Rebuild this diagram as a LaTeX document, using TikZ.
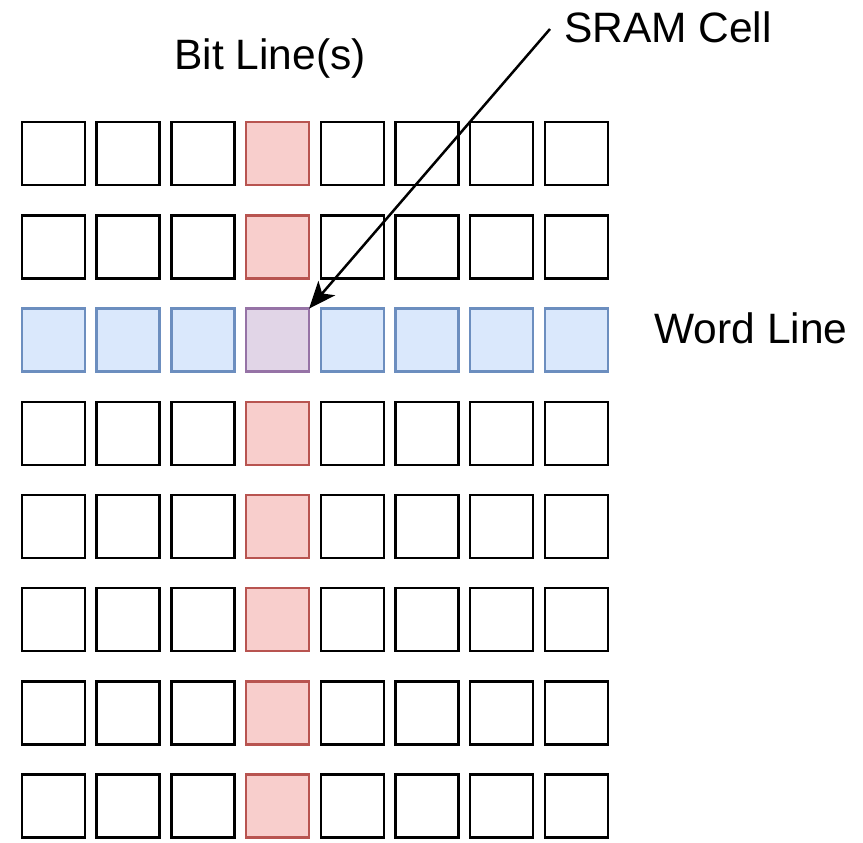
\documentclass[tikz,border=0pt]{standalone}
\usepackage{fontspec}
\setmainfont{Liberation Sans}
\usetikzlibrary{arrows.meta}

\definecolor{plainstroke}{HTML}{000000}
\definecolor{bitfill}{HTML}{F8CECC}
\definecolor{bitstroke}{HTML}{B85450}
\definecolor{wordfill}{HTML}{DAE8FC}
\definecolor{wordstroke}{HTML}{6C8EBF}
\definecolor{cellfill}{HTML}{E1D5E7}
\definecolor{cellstroke}{HTML}{9673A6}

\tikzset{
  memcell/.style={draw=plainstroke, fill=white, line width=2.5pt,
    minimum width=63pt, minimum height=63pt, inner sep=0pt, outer sep=0pt},
  bitcell/.style={memcell, draw=bitstroke, fill=bitfill},
  wordcell/.style={memcell, draw=wordstroke, fill=wordfill},
  selcell/.style={memcell, draw=cellstroke, fill=cellfill},
  caption/.style={font=\fontsize{42.5}{50}\selectfont, inner sep=0pt, anchor=base},
  pointer/.style={line width=2.5pt, -{Stealth[length=27pt, width=22pt, inset=7pt]}}
}

\begin{document}
\begin{tikzpicture}[x=1pt, y=-1pt]
  \useasboundingbox (0,0) rectangle (863,843);

  % 8 x 8 array of memory cells; column 4 is the bit line, row 3 the word line
  \foreach \r in {1,...,8} {
    \foreach \c in {1,...,8} {
      \pgfmathsetmacro{\cx}{53.5 + 74.7*(\c-1)}
      \pgfmathsetmacro{\cy}{153.7 + 93.2*(\r-1)}
      \ifnum\r=3
        \ifnum\c=4
          \node[selcell] (cell-\r-\c) at (\cx,\cy) {};
        \else
          \node[wordcell] (cell-\r-\c) at (\cx,\cy) {};
        \fi
      \else
        \ifnum\c=4
          \node[bitcell] (cell-\r-\c) at (\cx,\cy) {};
        \else
          \node[memcell] (cell-\r-\c) at (\cx,\cy) {};
        \fi
      \fi
    }
  }

  % labels
  \node[caption] (bitlabel) at (270,70) {Bit Line(s)};
  \node[caption] (sramlabel) at (668,43) {SRAM Cell};
  \node[caption] (wordlabel) at (751,343) {Word Line};

  % pointer from the SRAM label to the selected cell
  \coordinate (src) at (550,29);
  \draw[pointer] (src) -- (cell-3-4.north east);
\end{tikzpicture}
\end{document}
